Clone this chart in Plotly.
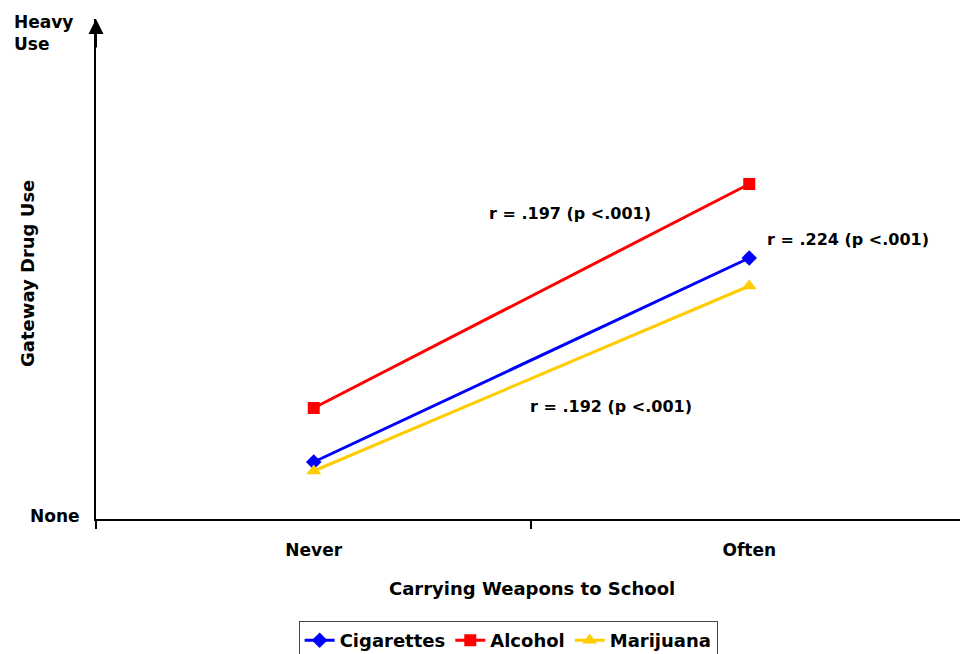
import plotly.graph_objects as go

categories = ["Never", "Often"]
cigarettes = [11.4, 52.2]
alcohol = [22.2, 67.0]
marijuana = [9.6, 46.6]

series_names = ["Cigarettes", "Alcohol", "Marijuana"]
r_labels = ["r = .197 (p <.001)", "r = .224 (p <.001)", "r = .192 (p <.001)"]
y_tick_labels = ["None", "Heavy<br>Use"]

FONT = "DejaVu Sans"
fig = go.Figure()

styles = [
    (cigarettes, "#0000FF", "diamond", 12),
    (alcohol, "#FF0000", "square", 12),
    (marijuana, "#FFCC00", "triangle-up", 13),
]
for name, (vals, col, sym, sz) in zip(series_names, styles):
    fig.add_trace(go.Scatter(
        x=categories, y=vals, name=name, mode="lines+markers",
        line=dict(color=col, width=3),
        marker=dict(symbol=sym, size=sz, color=col),
    ))

bold = lambda s: f"<b>{s}</b>"

annotations = [
    dict(x=0.589, y=61.2, xref="x", yref="y", text=bold(r_labels[0]), showarrow=False,
         font=dict(size=16, color="black", family=FONT)),
    dict(x=1.227, y=56.0, xref="x", yref="y", text=bold(r_labels[1]), showarrow=False,
         font=dict(size=16, color="black", family=FONT)),
    dict(x=0.683, y=22.6, xref="x", yref="y", text=bold(r_labels[2]), showarrow=False,
         font=dict(size=16, color="black", family=FONT)),
    # y extreme labels
    dict(x=-0.0162, y=0, xref="paper", yref="y", text=bold(y_tick_labels[0]), showarrow=False,
         xanchor="right", yanchor="middle", yshift=3,
         font=dict(size=17, color="black", family=FONT)),
    dict(x=-0.0972, y=0.973, xref="paper", yref="paper", text=bold(y_tick_labels[1]), showarrow=False,
         xanchor="left", yanchor="middle", align="left",
         font=dict(size=17, color="black", family=FONT)),
    # axis titles
    dict(x=0.5046, y=-0.138, xref="paper", yref="paper", text=bold("Carrying Weapons to School"),
         showarrow=False, xanchor="center", yanchor="middle",
         font=dict(size=18, color="black", family=FONT)),
    dict(x=-0.0799, y=0.492, xref="paper", yref="paper", text=bold("Gateway Drug Use"),
         showarrow=False, xanchor="center", yanchor="middle", textangle=-90,
         font=dict(size=18, color="black", family=FONT)),
    # arrow on top of y axis
    dict(x=0, y=1.0, xref="paper", yref="paper", text="", showarrow=True,
         ax=0, ay=30, axref="pixel", ayref="pixel", arrowhead=2, arrowsize=1.5,
         arrowwidth=2, arrowcolor="black"),
]

fig.update_layout(
    width=960, height=654,
    margin=dict(l=96, r=0, t=19, b=135, autoexpand=False),
    paper_bgcolor="white", plot_bgcolor="white",
    showlegend=True,
    legend=dict(orientation="h", x=0.477, xanchor="center", y=-0.204, yanchor="top",
                bordercolor="#444", borderwidth=1,
                font=dict(size=18, color="black", family=FONT, weight="bold"),
                itemwidth=30, tracegroupgap=0),
    annotations=annotations,
    font=dict(family=FONT, color="black"),
)
fig.update_xaxes(
    type="category", range=[-0.5, 1.484], tickson="boundaries",
    ticks="outside", ticklen=8, tickwidth=2, tickcolor="black",
    showline=True, linewidth=2, linecolor="black",
    showgrid=False, zeroline=False,
    tickfont=dict(size=17, color="black", family=FONT, weight="bold"),
    ticklabelstandoff=15,
)
fig.update_yaxes(
    range=[0, 100], showline=True, linewidth=2, linecolor="black",
    showgrid=False, zeroline=False, showticklabels=False, ticks="",
)

fig.write_html("out.html", config={"displayModeBar": False},
               post_script="document.body.style.margin='0';document.body.style.overflow='hidden';")
